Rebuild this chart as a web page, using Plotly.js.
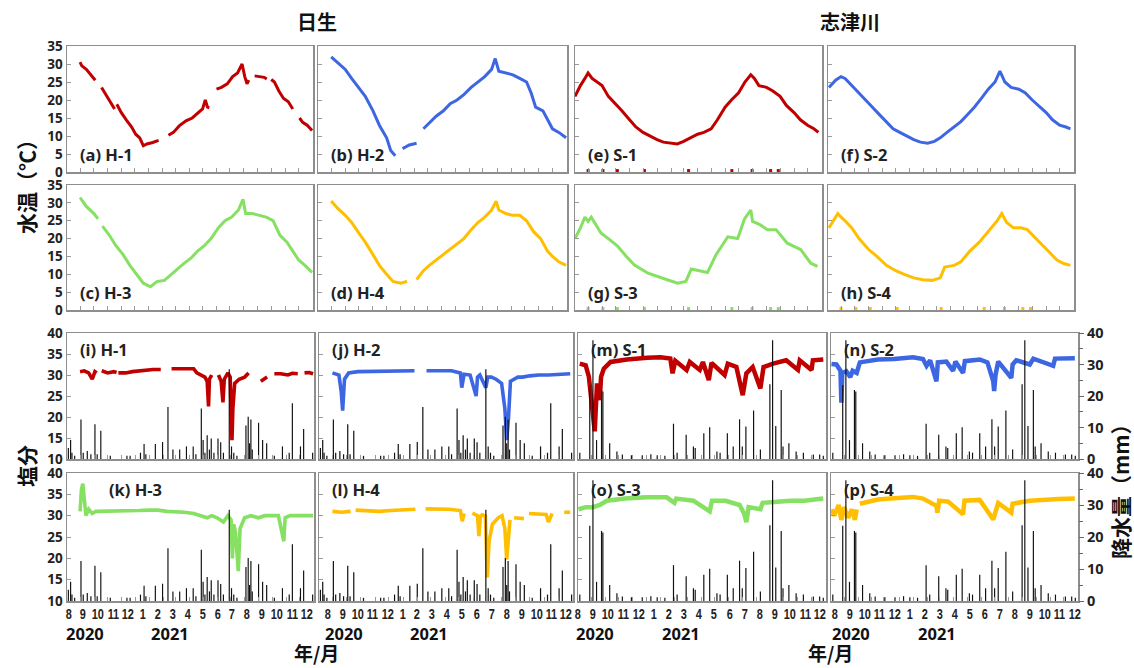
<!DOCTYPE html>
<html>
<head>
<meta charset="utf-8">
<script src="https://cdn.plot.ly/plotly-3.0.1.min.js"></script>
<style>html,body{margin:0;padding:0;background:#fff;}#chart{width:1134px;height:668px;}</style>
</head>
<body>
<div id="chart"></div>
<script>
// ---------------- DATA ----------------
const monthTickDates = ['2020-08-01','2020-09-01','2020-10-01','2020-11-01','2020-12-01','2021-01-01','2021-02-01','2021-03-01','2021-04-01','2021-05-01','2021-06-01','2021-07-01','2021-08-01','2021-09-01','2021-10-01','2021-11-01','2021-12-01'];
const monthTickLabels = ['8','9','10','11','12','1','2','3','4','5','6','7','8','9','10','11','12'];
const yearLabels = ['2020','2021'];
const siteTitles = ['日生','志津川'];

// Water temperature (°C)
const h1TempDates = ['2020-08-01','2020-08-05','2020-08-15','2020-08-25','2020-09-04','2020-09-11','2020-09-18','2020-09-28','2020-10-08','2020-10-17','2020-10-20','2020-10-22','2020-11-01','2020-11-12','2020-11-24','2020-12-03','2020-12-12','2020-12-20','2020-12-28','2021-01-10','2021-01-23','2021-02-03','2021-02-14','2021-02-25','2021-03-10','2021-03-25','2021-04-08','2021-04-20','2021-05-01','2021-05-07','2021-05-12','2021-05-16','2021-05-24','2021-06-01','2021-06-12','2021-06-25','2021-07-07','2021-07-18','2021-07-28','2021-08-03','2021-08-08','2021-08-12','2021-08-18','2021-08-25','2021-09-05','2021-09-15','2021-09-21','2021-09-26','2021-10-01','2021-10-08','2021-10-18','2021-10-28','2021-11-08','2021-11-18','2021-11-25','2021-12-03','2021-12-10','2021-12-20','2021-12-31'];
const h1Temp = [30.5,29.5,28.5,27,25.5,null,23.5,21.5,19.5,17.5,null,18.8,16.5,14.5,12.5,10.5,9.5,7.3,7.8,8.2,8.8,null,10.2,11,12.8,14.2,15,16.3,17.5,20,18,17.8,null,23,23.5,24.5,26.5,27.5,30,26.5,24.5,25.5,null,26.7,26.5,26.3,25.8,null,25.7,25,22.5,20.5,19.5,17.5,null,15,13.8,13,11.5];

const h2TempDates = ['2020-08-01','2020-08-15','2020-09-01','2020-09-15','2020-10-01','2020-10-15','2020-11-01','2020-11-15','2020-12-01','2020-12-10','2020-12-20','2020-12-28','2021-01-05','2021-01-20','2021-02-05','2021-02-12','2021-02-20','2021-03-05','2021-03-20','2021-04-05','2021-04-20','2021-05-05','2021-05-20','2021-06-05','2021-06-20','2021-07-05','2021-07-20','2021-07-28','2021-08-05','2021-08-20','2021-09-05','2021-09-20','2021-10-05','2021-10-15','2021-10-25','2021-11-10','2021-11-20','2021-12-01','2021-12-15','2021-12-31'];
const h2Temp = [32,30.5,28.5,26,23.5,21,17,13,9.5,6,4.5,null,6.5,7.5,8,null,12,13.5,15.5,17,19,20,21.5,23.5,25,26.5,28.5,31.5,28,27.5,27,26,25,22,18,17,14.5,12,11,9.5];

const h3TempDates = ['2020-08-01','2020-08-15','2020-09-01','2020-09-10','2020-09-15','2020-09-20','2020-10-05','2020-10-20','2020-11-05','2020-11-20','2020-12-05','2020-12-20','2021-01-05','2021-01-20','2021-02-05','2021-02-20','2021-03-05','2021-03-20','2021-04-05','2021-04-20','2021-05-05','2021-05-20','2021-06-05','2021-06-20','2021-07-05','2021-07-20','2021-07-30','2021-08-05','2021-08-20','2021-09-05','2021-09-20','2021-10-05','2021-10-20','2021-11-05','2021-11-20','2021-12-01','2021-12-15','2021-12-31'];
const h3Temp = [31.5,29,27,25.5,null,23.5,21,18,15.5,12.5,10,7.5,6.5,8,8.3,10,11.5,13,14.5,16.5,18,20,23,25,26,28,31,27,27,26.5,26,25,21,19,16,14,12.5,10.5];

const h4TempDates = ['2020-08-01','2020-08-15','2020-09-01','2020-09-15','2020-10-01','2020-10-15','2020-11-01','2020-11-15','2020-12-01','2020-12-15','2021-01-01','2021-01-15','2021-01-25','2021-02-05','2021-02-20','2021-03-05','2021-03-20','2021-04-05','2021-04-20','2021-05-05','2021-05-20','2021-06-05','2021-06-20','2021-07-05','2021-07-20','2021-07-30','2021-08-05','2021-08-20','2021-09-05','2021-09-20','2021-10-05','2021-10-20','2021-11-05','2021-11-20','2021-12-01','2021-12-15','2021-12-31'];
const h4Temp = [30.5,28.5,26.5,24.5,21.5,19,15.5,12.5,10,8,7.5,8,null,8.5,11,12.5,14,15.5,17,18.5,20,22.5,24.5,26,28,30.5,28,27,26.5,26.5,25,22,20,16.5,15,13.5,12.5];

const s1TempDates = ['2020-07-03','2020-07-15','2020-07-25','2020-08-01','2020-08-10','2020-08-20','2020-09-01','2020-09-15','2020-10-01','2020-10-15','2020-11-01','2020-11-15','2020-12-01','2020-12-15','2021-01-01','2021-01-15','2021-02-01','2021-02-15','2021-03-01','2021-03-15','2021-04-01','2021-04-15','2021-05-01','2021-05-15','2021-06-01','2021-06-15','2021-07-01','2021-07-15','2021-07-28','2021-08-05','2021-08-15','2021-09-01','2021-09-15','2021-10-01','2021-10-15','2021-11-01','2021-11-15','2021-12-01','2021-12-15','2021-12-25'];
const s1Temp = [21,24,26,27.5,26,25,24,21,19,17,14.5,12.5,11,10,9,8.3,8,7.8,8.5,9.5,10.5,11,12,14.5,18,20,22,25,27,26,24,23.5,22.5,21,18.5,16.5,14.5,13,12,11];

const s2TempDates = ['2020-07-05','2020-07-20','2020-08-01','2020-08-10','2020-08-25','2020-09-10','2020-09-25','2020-10-10','2020-10-25','2020-11-10','2020-11-25','2020-12-10','2020-12-25','2021-01-10','2021-01-25','2021-02-10','2021-02-25','2021-03-10','2021-03-25','2021-04-10','2021-04-25','2021-05-10','2021-05-25','2021-06-10','2021-06-25','2021-07-10','2021-07-21','2021-08-01','2021-08-15','2021-09-01','2021-09-15','2021-10-01','2021-10-15','2021-11-01','2021-11-15','2021-12-01','2021-12-15','2021-12-25'];
const s2Temp = [23.5,25.5,26.5,26,24,22,20,18,16,14,12,11,10,9,8.3,8,8.5,9.5,11,12.5,14,16,18,20.5,23,25,28,25,23.5,23,22,20,18.5,16.5,14.5,13,12.5,12];

const s3TempDates = ['2020-07-03','2020-07-15','2020-07-25','2020-08-01','2020-08-08','2020-08-30','2020-09-15','2020-10-06','2020-10-25','2020-11-12','2020-12-12','2021-01-05','2021-01-25','2021-02-16','2021-03-06','2021-03-18','2021-04-05','2021-04-23','2021-05-12','2021-06-07','2021-06-29','2021-07-14','2021-07-28','2021-08-01','2021-08-16','2021-09-03','2021-09-22','2021-10-17','2021-11-16','2021-12-08','2021-12-23'];
const s3Temp = [20,23,26,24.8,26,21.5,20,17.8,15,12.6,10.3,9.2,8.4,7.5,8,11.5,11,10.5,15.5,20.5,20,25.5,28,24.8,24,22.5,22.5,18.7,16.9,13.1,12.2];

const s4TempDates = ['2020-07-05','2020-07-25','2020-08-01','2020-08-10','2020-08-25','2020-09-10','2020-10-01','2020-10-20','2020-11-10','2020-12-01','2020-12-20','2021-01-10','2021-01-30','2021-02-20','2021-03-10','2021-03-20','2021-04-10','2021-04-25','2021-05-15','2021-06-05','2021-06-25','2021-07-15','2021-07-25','2021-08-05','2021-08-20','2021-09-05','2021-09-20','2021-10-05','2021-10-20','2021-11-10','2021-11-25','2021-12-10','2021-12-25'];
const s4Temp = [23,27,26,25,23,20,17,15,12.5,11,10,9,8.5,8.3,9,12,12.5,13.5,16.5,19,22,25,27,24.5,23,23,22.5,20.5,18.5,16,14,13,12.5];

// Spurious near-zero temperature readings along the bottom of the Shizugawa panels
const sZeroDates = ['2020-08-01','2020-09-03','2020-10-05','2020-12-04','2021-03-12','2021-06-16','2021-07-31','2021-09-10','2021-09-27'];
const sZeroTemp = [0.4,0.4,0.4,0.4,0.4,0.4,0.4,0.4,0.4];

// Salinity
const h1SalDates = ['2020-08-01','2020-08-10','2020-08-20','2020-08-28','2020-09-03','2020-09-07','2020-09-12','2020-09-18','2020-10-01','2020-10-15','2020-10-21','2020-10-23','2020-10-25','2020-11-10','2020-11-25','2020-12-10','2020-12-25','2021-01-10','2021-01-27','2021-02-08','2021-02-20','2021-03-10','2021-03-25','2021-04-10','2021-04-17','2021-04-25','2021-05-05','2021-05-10','2021-05-13','2021-05-15','2021-05-20','2021-05-27','2021-06-04','2021-06-10','2021-06-14','2021-06-17','2021-06-25','2021-06-30','2021-07-04','2021-07-06','2021-07-10','2021-07-20','2021-08-01','2021-08-10','2021-08-25','2021-09-06','2021-09-14','2021-09-20','2021-09-28','2021-10-06','2021-10-20','2021-11-05','2021-11-15','2021-11-27','2021-12-05','2021-12-12','2021-12-22','2021-12-31'];
const h1Sal = [30.8,31,30.5,29,30.8,30.5,null,31,30.5,30.8,30.6,null,30.5,30.5,30.8,31,31,31.3,31.3,null,31.5,31.5,31.6,31.5,30.5,30,29.5,28.5,22.5,29,30,null,30,28.5,23.5,29,30.5,29.5,14.5,22,28,29,29.5,30.5,null,28.5,29,29.5,null,30.3,30.3,30,30.4,30.3,null,30.5,30.6,30.3];

const h2SalDates = ['2020-08-01','2020-08-15','2020-08-20','2020-08-23','2020-08-27','2020-09-05','2020-09-25','2020-10-15','2020-11-10','2020-12-10','2021-01-05','2021-01-25','2021-02-08','2021-02-20','2021-03-20','2021-04-15','2021-05-04','2021-05-07','2021-05-12','2021-05-25','2021-06-07','2021-06-10','2021-06-15','2021-06-28','2021-07-02','2021-07-10','2021-07-20','2021-08-01','2021-08-08','2021-08-12','2021-08-16','2021-08-20','2021-09-05','2021-09-15','2021-10-01','2021-10-20','2021-11-10','2021-12-01','2021-12-27'];
const h2Sal = [30.5,30,26,21.5,29,30.5,30.8,30.8,31,31,31,31,null,31,31,31,30.5,27,30.2,30,25,29.5,30,27,29.5,29.5,29,28,22,14.5,20,28.5,29.5,29.5,29.8,30,30,30.2,30.3];

const h3SalDates = ['2020-08-01','2020-08-04','2020-08-07','2020-08-10','2020-08-14','2020-08-20','2020-08-28','2020-09-05','2020-09-20','2020-10-10','2020-11-01','2020-11-20','2020-12-10','2021-01-01','2021-01-20','2021-02-10','2021-03-01','2021-03-20','2021-04-10','2021-04-25','2021-05-10','2021-05-20','2021-06-01','2021-06-15','2021-06-25','2021-07-02','2021-07-05','2021-07-08','2021-07-12','2021-07-18','2021-07-22','2021-08-01','2021-08-15','2021-09-01','2021-09-15','2021-10-01','2021-10-15','2021-10-27','2021-10-30','2021-11-10','2021-11-25','2021-12-10','2021-12-31'];
const h3Sal = [31,36,37.5,33,30,31.5,30.5,31,31,31,31,31,31.2,31.3,31.3,31,31,30.8,30.5,30,29.5,30,29.5,28.5,30,29,20,28,26,17,27,29.5,30,29.5,30,30,30,24,29.5,30,30,30.2,30];

const h4SalDates = ['2020-08-01','2020-08-20','2020-09-09','2020-09-15','2020-09-20','2020-10-15','2020-11-10','2020-12-05','2020-12-30','2021-01-27','2021-02-07','2021-02-18','2021-03-15','2021-04-10','2021-05-04','2021-05-08','2021-05-12','2021-05-20','2021-05-30','2021-06-10','2021-06-13','2021-06-16','2021-06-20','2021-06-27','2021-07-01','2021-07-05','2021-07-12','2021-07-25','2021-08-02','2021-08-08','2021-08-12','2021-08-16','2021-08-19','2021-08-23','2021-08-28','2021-09-10','2021-09-18','2021-09-23','2021-09-29','2021-10-20','2021-11-05','2021-11-10','2021-11-18','2021-12-01','2021-12-14','2021-12-27'];
const h4Sal = [31,30.8,31,null,31.3,31.2,31,31.2,31.3,31.5,null,31.6,31.6,31.5,31.2,28.7,30.5,null,30.6,30,25.2,29.8,30.2,29.9,15.5,24,28,29.5,30,27,19.7,25,29,null,29.5,29.5,29.3,null,30.5,30.5,30.3,28.5,30.5,null,30.8,30.8];

const s1SalDates = ['2020-07-07','2020-07-20','2020-07-27','2020-08-03','2020-08-09','2020-08-14','2020-08-20','2020-08-23','2020-08-29','2020-09-13','2020-10-19','2020-12-03','2021-01-01','2021-01-23','2021-01-28','2021-02-03','2021-02-28','2021-03-07','2021-03-29','2021-04-05','2021-04-18','2021-04-24','2021-05-23','2021-05-30','2021-06-18','2021-07-02','2021-07-10','2021-07-24','2021-08-10','2021-08-17','2021-09-07','2021-10-06','2021-11-01','2021-11-05','2021-12-01','2021-12-04','2021-12-27'];
const s1Sal = [32.7,32.3,29.6,23.3,16.6,28,24,29.6,31.5,33.1,33.7,34.1,34.2,33.9,30.4,33.4,31.2,33.1,31.2,33.1,28.8,32.9,30,32.7,31.9,25.2,30.4,31.9,26.8,31.9,32.7,33.5,31.2,33.5,31.2,33.5,33.7];

const s2SalDates = ['2020-07-04','2020-07-15','2020-07-24','2020-07-26','2020-07-28','2020-08-06','2020-08-15','2020-08-20','2020-08-29','2020-09-05','2020-10-15','2020-11-20','2021-01-01','2021-01-23','2021-01-31','2021-02-08','2021-02-22','2021-02-25','2021-03-16','2021-03-31','2021-04-05','2021-04-22','2021-04-26','2021-05-29','2021-06-15','2021-06-28','2021-06-30','2021-07-03','2021-07-09','2021-08-07','2021-08-10','2021-08-18','2021-09-17','2021-09-25','2021-11-08','2021-11-12','2021-12-26'];
const s2Sal = [32.6,32.5,31,23.4,30.5,30.9,29.5,31,30.5,33,33.7,33.8,34.2,33.8,32.2,33.5,28.5,33,33.2,31,33.2,30.5,33.3,33.7,33,28.5,26.2,30,33.2,29.3,32.5,33.5,32.5,33.9,32.2,33.9,34];

const s3SalDates = ['2020-07-04','2020-07-20','2020-08-05','2020-08-20','2020-09-05','2020-10-15','2020-12-01','2021-01-15','2021-02-01','2021-02-05','2021-03-15','2021-04-20','2021-04-25','2021-05-25','2021-06-25','2021-07-05','2021-07-10','2021-07-15','2021-08-10','2021-08-15','2021-09-10','2021-10-15','2021-11-15','2021-12-27'];
const s3Sal = [31.5,32,32,32.5,33.5,34,34.3,34.3,33,34,33.5,31,33.5,33.5,32.5,30.5,28.5,32,31.5,33,33.2,33.5,33.5,34];

const s4SalDates = ['2020-07-04','2020-07-10','2020-07-20','2020-07-26','2020-08-01','2020-08-10','2020-08-18','2020-08-25','2020-08-29','2020-09-01','2020-09-05','2020-10-15','2020-11-20','2021-01-01','2021-01-23','2021-02-22','2021-02-24','2021-02-28','2021-03-20','2021-04-22','2021-04-25','2021-05-29','2021-06-28','2021-07-03','2021-07-09','2021-08-07','2021-08-10','2021-09-17','2021-10-20','2021-11-20','2021-12-26'];
const s4Sal = [31.5,30,32.5,29,32,29.5,31.5,29,31.5,null,32.8,33.8,34.1,34.4,34,32.3,30.7,33.5,33.3,30.3,33.5,33.7,29.1,31,33,30.7,32.8,33.5,33.8,33.9,34];

// Daily precipitation (mm)
const hinasePrecipDates = ['2020-07-06','2020-07-11','2020-07-14','2020-07-20','2020-08-03','2020-08-08','2020-08-17','2020-08-25','2020-09-03','2020-09-08','2020-09-16','2020-10-07','2020-11-13','2020-11-20','2020-12-13','2020-12-21','2020-12-25','2021-01-15','2021-01-31','2021-02-12','2021-02-23','2021-03-10','2021-03-25','2021-04-09','2021-04-15','2021-04-27','2021-05-01','2021-05-05','2021-05-10','2021-05-15','2021-05-19','2021-05-25','2021-06-03','2021-06-09','2021-06-15','2021-06-28','2021-07-03','2021-07-08','2021-07-15','2021-08-04','2021-08-09','2021-08-12','2021-08-15','2021-08-18','2021-09-01','2021-09-10','2021-09-19','2021-10-06','2021-10-24','2021-11-08','2021-11-15','2021-12-03','2021-12-10','2021-12-30'];
const hinasePrecip = [3.5,6,2,1,12.5,2,2.5,1.5,11,1.5,9,1,1,1,2,4.8,1.5,4.8,5.4,16.5,3,3,4,4,1.5,16,6,2,7.5,3,6.5,2,6.5,5.3,2,28.5,4,2,1,10.6,13.4,5,12.5,3,11.5,6,5,1,4,2,17.7,4,9.5,2];

const shizugawaPrecipDates = ['2020-07-07','2020-07-29','2020-08-05','2020-08-13','2020-08-24','2020-08-27','2020-09-11','2020-09-27','2020-10-09','2020-10-29','2020-11-22','2020-12-11','2020-12-25','2021-01-11','2021-01-30','2021-02-07','2021-02-27','2021-03-15','2021-03-19','2021-04-07','2021-04-20','2021-05-06','2021-05-13','2021-05-29','2021-06-11','2021-06-25','2021-07-01','2021-07-09','2021-07-26','2021-08-10','2021-08-31','2021-09-06','2021-09-13','2021-09-25','2021-09-29','2021-10-12','2021-10-28','2021-11-13','2021-12-05','2021-12-19','2021-12-27'];
const shizugawaPrecip = [2,23.5,37.7,6,21.9,21.4,5,2.4,1.4,1.2,1.2,1.5,1.2,1,11.2,2,7.7,4,3.5,8.2,10.1,2.4,2,8.2,4,12.6,4,10.3,15.4,3,23.7,37.7,10.5,21.9,4,5,2.4,2,1.4,1.4,1];

// ---------------- LAYOUT / STYLE ----------------
const W = 1134, H = 668;
const RED = '#c00000', BLUE = '#3d66e3', GREEN = '#86e062', ORANGE = '#ffbf00';
const TXT = "'Noto Sans', 'Open Sans', sans-serif";
const CJK = "'Noto Sans CJK JP', 'Noto Sans CJK SC', sans-serif";
const NARROW = "'Liberation Sans', Arial, sans-serif";
const rowsY = [[46,172],[185,310],[333,459],[473,601]];
const colsTop = [[67,313],[318,567],[575,822],[828,1074]];
const colsBot = [[67,314],[319,573],[578,826],[831,1078]];
const labelStart = [1.5, 9, 0, 3.5];
const labelStep = [14.9, 14.9, 15.15, 15.0];
const xRange = ['2020-07-03','2022-01-02'];

const panels = [
  {r:0,c:0,lab:'(a) H-1',x:h1TempDates,y:h1Temp,col:RED},
  {r:0,c:1,lab:'(b) H-2',x:h2TempDates,y:h2Temp,col:BLUE},
  {r:0,c:2,lab:'(e) S-1',x:s1TempDates,y:s1Temp,col:RED,zero:true},
  {r:0,c:3,lab:'(f) S-2',x:s2TempDates,y:s2Temp,col:BLUE},
  {r:1,c:0,lab:'(c) H-3',x:h3TempDates,y:h3Temp,col:GREEN},
  {r:1,c:1,lab:'(d) H-4',x:h4TempDates,y:h4Temp,col:ORANGE},
  {r:1,c:2,lab:'(g) S-3',x:s3TempDates,y:s3Temp,col:GREEN,zero:true},
  {r:1,c:3,lab:'(h) S-4',x:s4TempDates,y:s4Temp,col:ORANGE,zero:true},
  {r:2,c:0,lab:'(i) H-1',x:h1SalDates,y:h1Sal,col:RED,pd:hinasePrecipDates,pv:hinasePrecip},
  {r:2,c:1,lab:'(j) H-2',x:h2SalDates,y:h2Sal,col:BLUE,pd:hinasePrecipDates,pv:hinasePrecip},
  {r:2,c:2,lab:'(m) S-1',x:s1SalDates,y:s1Sal,col:RED,pd:shizugawaPrecipDates,pv:shizugawaPrecip},
  {r:2,c:3,lab:'(n) S-2',x:s2SalDates,y:s2Sal,col:BLUE,pd:shizugawaPrecipDates,pv:shizugawaPrecip},
  {r:3,c:0,lab:'(k) H-3',x:h3SalDates,y:h3Sal,col:GREEN,pd:hinasePrecipDates,pv:hinasePrecip,lx:0.16},
  {r:3,c:1,lab:'(l) H-4',x:h4SalDates,y:h4Sal,col:ORANGE,pd:hinasePrecipDates,pv:hinasePrecip},
  {r:3,c:2,lab:'(o) S-3',x:s3SalDates,y:s3Sal,col:GREEN,pd:shizugawaPrecipDates,pv:shizugawaPrecip},
  {r:3,c:3,lab:'(p) S-4',x:s4SalDates,y:s4Sal,col:ORANGE,pd:shizugawaPrecipDates,pv:shizugawaPrecip}
];

const traces = [];
const layout = {
  width: W, height: H, margin: {l:0,r:0,t:0,b:0},
  paper_bgcolor: '#fff', plot_bgcolor: '#fff', showlegend: false,
  font: {family: TXT, color: '#222'},
  annotations: []
};
const frame = {showline:true, mirror:true, linecolor:'#8e8e8e', linewidth:1.5, showgrid:false, zeroline:false};
const tickFont = {family: TXT, size: 13.5, weight: 'bold', color: '#222'};
const narrowIdx = [];

panels.forEach((p, i) => {
  const k = i + 1;
  const sal = p.r >= 2;
  const cx = sal ? colsBot[p.c] : colsTop[p.c];
  const ry = rowsY[p.r];
  const xd = [cx[0]/W, cx[1]/W];
  const yd = [1 - ry[1]/H, 1 - ry[0]/H];
  layout['xaxis' + k] = Object.assign({}, frame, {
    domain: xd, anchor: 'y' + k, type: 'date', range: xRange,
    tickmode: 'array', tickvals: monthTickDates, ticks: 'inside', ticklen: 4, tickcolor: '#9a9a9a',
    showticklabels: false
  });
  layout['yaxis' + k] = Object.assign({}, frame, {
    domain: yd, anchor: 'x' + k, range: sal ? [10, 40] : [0, 35], dtick: 5, tick0: 0,
    ticks: 'inside', ticklen: 4, tickcolor: '#9a9a9a',
    showticklabels: p.c === 0, tickfont: tickFont
  });
  const isS = p.c >= 2;
  traces.push({
    type: 'scatter', mode: 'lines', x: p.x, y: p.y, connectgaps: false,
    line: {color: p.col, width: sal ? (isS ? 4.5 : 3.6) : 3},
    xaxis: 'x' + k, yaxis: 'y' + k, hoverinfo: 'skip'
  });
  if (p.zero) {
    traces.push({
      type: 'scatter', mode: 'markers', x: sZeroDates, y: sZeroTemp, cliponaxis: false,
      marker: {color: p.col, size: 3, symbol: 'square'},
      xaxis: 'x' + k, yaxis: 'y' + k, hoverinfo: 'skip'
    });
  }
  if (sal) {
    const pk = 16 + (k - 8);
    layout['yaxis' + pk] = {
      overlaying: 'y' + k, anchor: 'x' + k, side: 'right', range: [0, 40],
      showgrid: false, zeroline: false, showline: false,
      visible: p.c === 3,
      tickmode: 'array', tickvals: [0,10,20,30,40], ticks: 'outside', ticklen: 5, tickcolor: '#666',
      minor: {tickmode: 'array', tickvals: [5,15,25,35], ticks: 'outside', ticklen: 4, tickcolor: '#666'},
      tickfont: {family: TXT, size: 14.5, weight: 'bold', color: '#222'}
    };
    traces.push({
      type: 'bar', x: p.pd, y: p.pv, width: 2.6 * 86400000,
      marker: {color: '#111', line: {width: 0}},
      xaxis: 'x' + k, yaxis: 'y' + pk, hoverinfo: 'skip'
    });
  }
  layout.annotations.push({
    xref: 'x' + k + ' domain', yref: 'y' + k + ' domain',
    x: p.lx !== undefined ? p.lx : 0.045, y: sal ? 0.975 : 0.03,
    xanchor: 'left', yanchor: sal ? 'top' : 'bottom', showarrow: false,
    text: p.lab, font: {family: TXT, size: 16.5, weight: 'bold', color: '#222'}
  });
  // month / year labels under the bottom row
  if (p.r === 3) {
    monthTickLabels.forEach((t, j) => {
      narrowIdx.push(layout.annotations.length);
      layout.annotations.push({
        xref: 'paper', yref: 'paper', x: (cx[0] + labelStart[p.c] + j * labelStep[p.c]) / W, y: 1 - 614/H,
        xanchor: 'center', yanchor: 'middle', showarrow: false, text: t,
        font: {family: NARROW, size: 14, weight: 'bold', color: '#222'}
      });
    });
    [1.1, 6.8].forEach((pos, j) => {
      layout.annotations.push({
        xref: 'paper', yref: 'paper', x: (cx[0] + labelStart[p.c] + pos * labelStep[p.c]) / W, y: 1 - 633/H,
        xanchor: 'center', yanchor: 'middle', showarrow: false, text: yearLabels[j],
        font: {family: TXT, size: 16.5, weight: 'bold', color: '#111'}
      });
    });
  }
});

// Titles
const big = {family:CJK, size:19, weight:'bold', color:'#111'};
const axT = {family:CJK, size:21, weight:'bold', color:'#111'};
const ann = (x, y, text, extra) => Object.assign({xref:'paper', yref:'paper', x:x/W, y:1-y/H, xanchor:'center', yanchor:'middle', showarrow:false, text:text, font:big}, extra || {});
layout.annotations.push(
  ann(317, 22, siteTitles[0], {font:{family:CJK,size:20,weight:'bold',color:'#111'}}),
  ann(850, 22, siteTitles[1], {font:{family:CJK,size:20,weight:'bold',color:'#111'}}),
  ann(26, 182, '水温（℃）', {textangle:-90, font:axT}),
  ann(26, 466, '塩分', {textangle:-90, font:axT}),
  ann(1120, 486, '降水量（mm）', {textangle:-90, font:axT}),
  ann(316, 652, '年/月'),
  ann(830, 652, '年/月')
);

Plotly.newPlot('chart', traces, layout, {staticPlot: true, displayModeBar: false}).then(gd => {
  // condense the month labels horizontally (narrow typeface look)
  const set = new Set(narrowIdx.map(String));
  gd.querySelectorAll('g.annotation').forEach(g => {
    if (!set.has(g.getAttribute('data-index'))) return;
    const t = g.querySelector('text.annotation-text');
    if (!t) return;
    const len = t.getComputedTextLength();
    t.setAttribute('textLength', (len * 0.78).toFixed(2));
    t.setAttribute('lengthAdjust', 'spacingAndGlyphs');
  });
});
</script>
</body>
</html>
